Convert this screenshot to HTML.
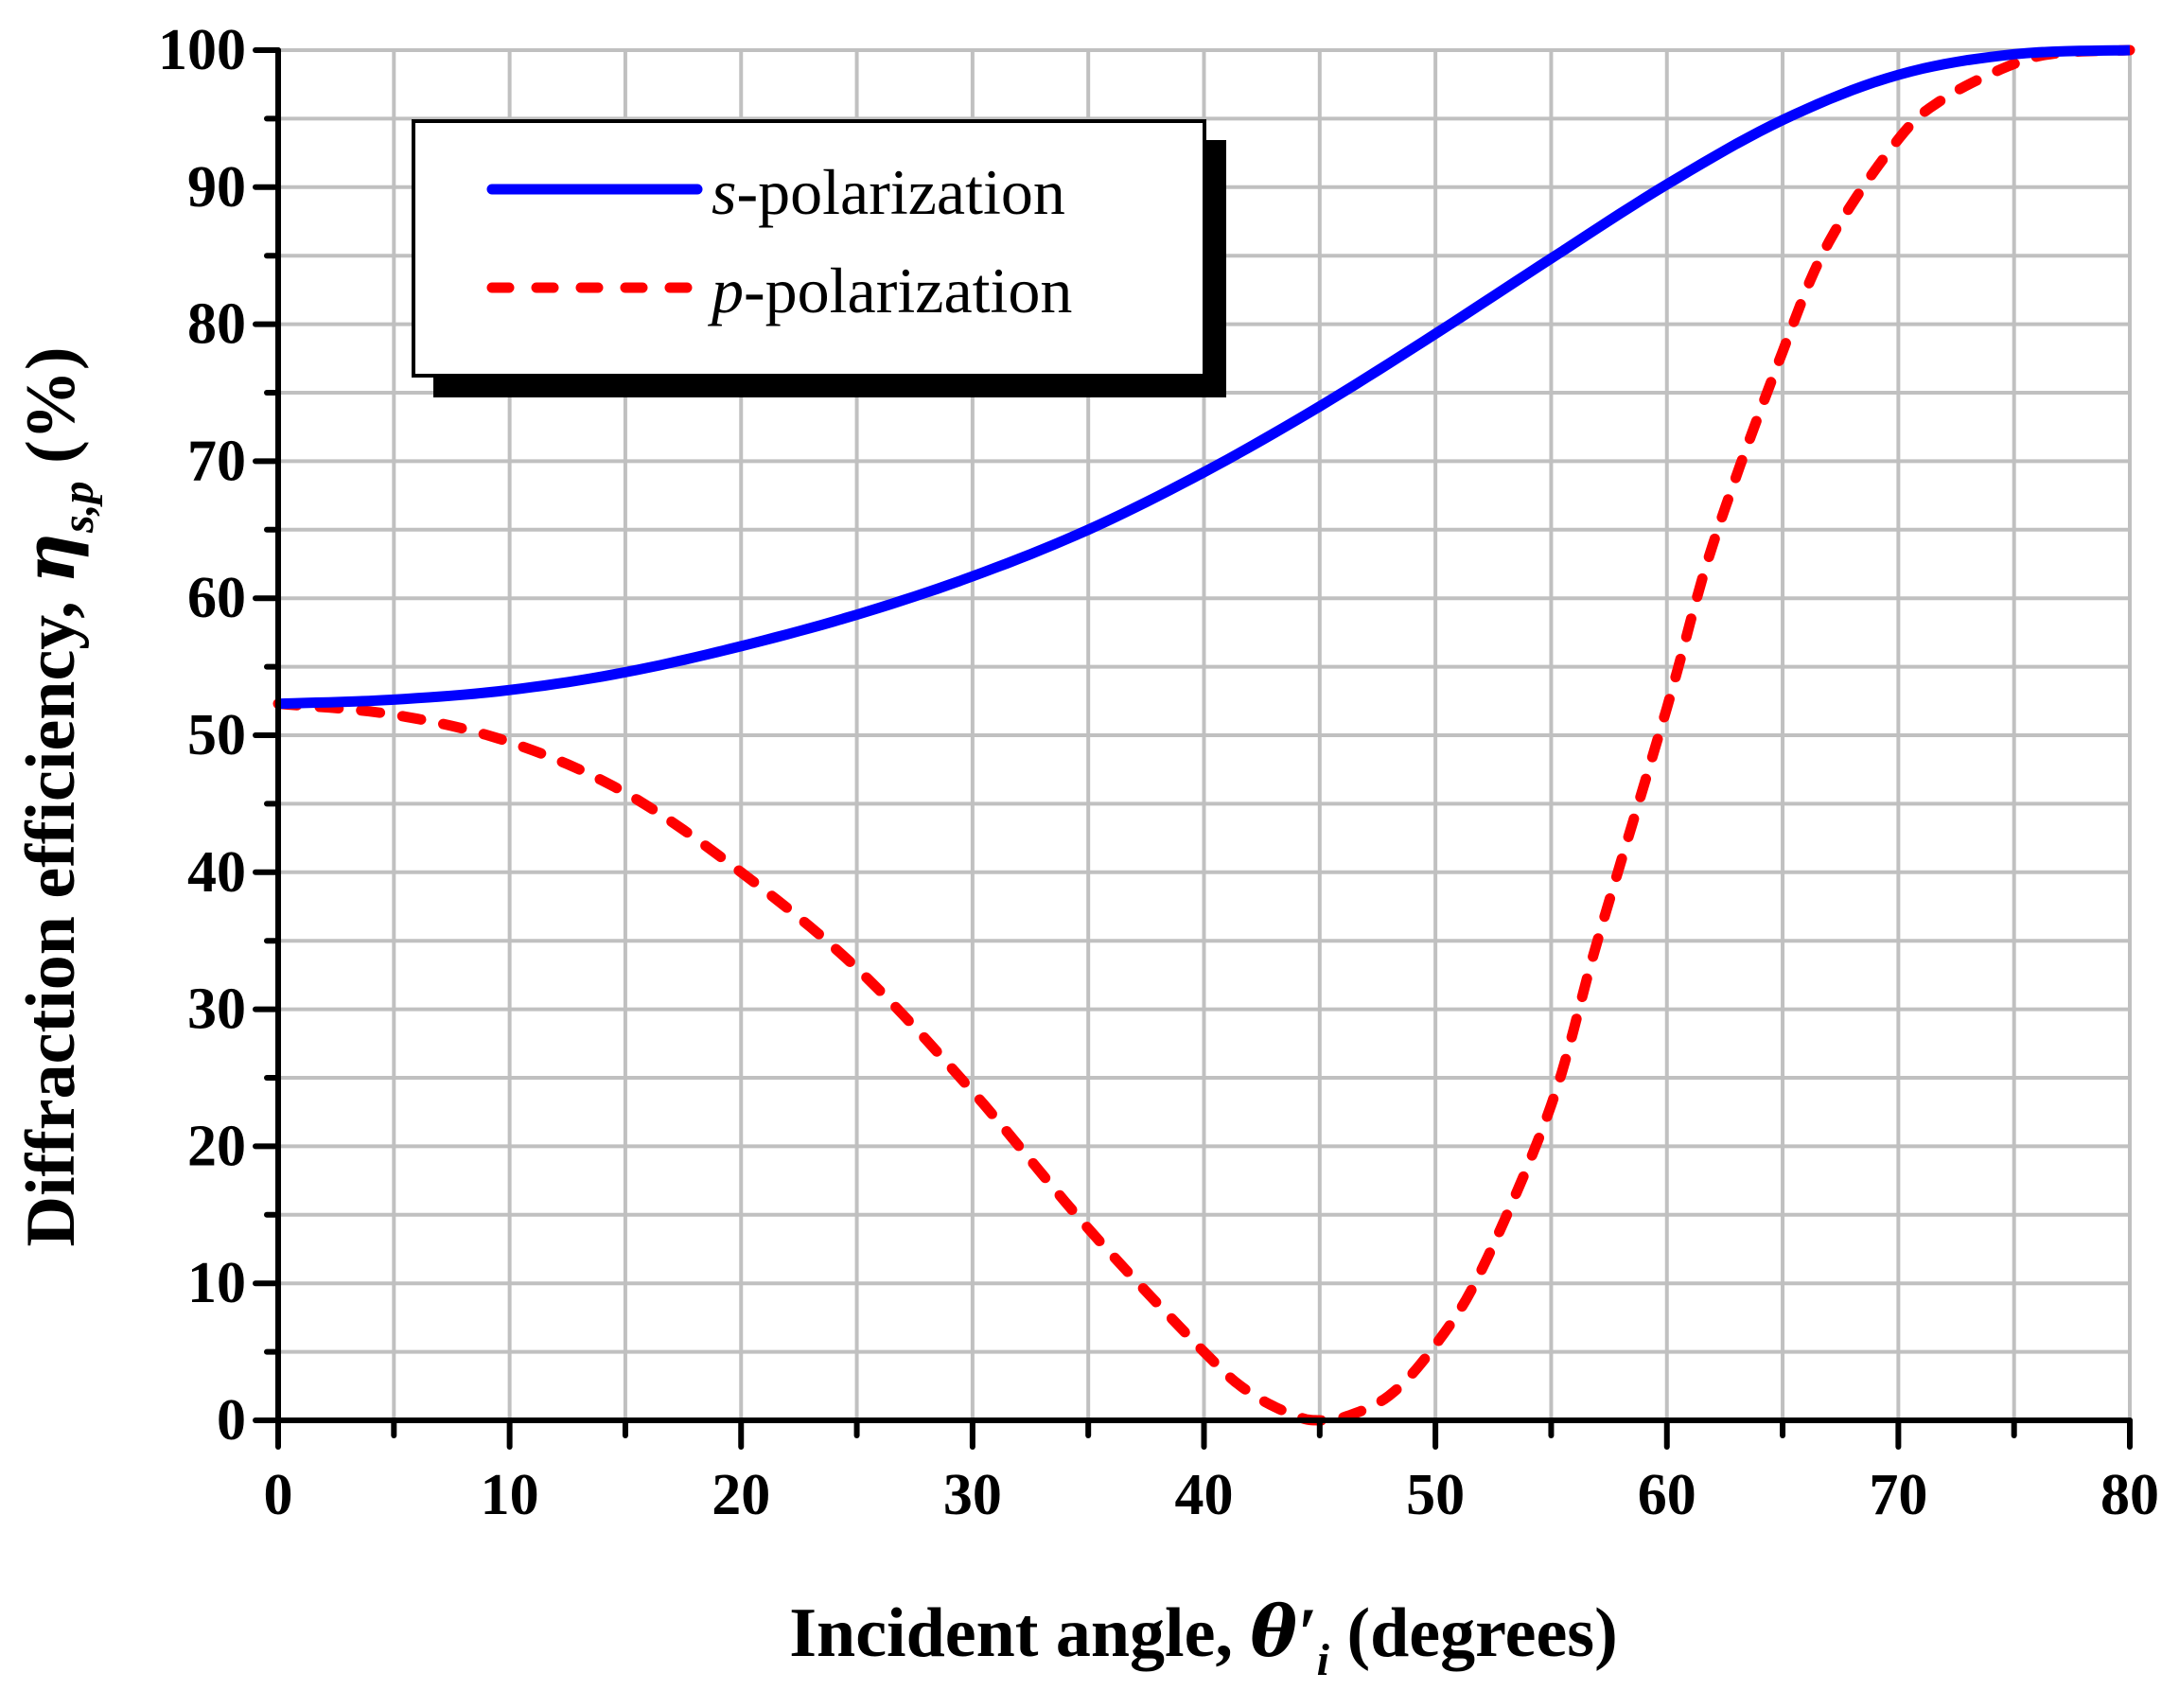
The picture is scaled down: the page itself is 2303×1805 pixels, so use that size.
<!DOCTYPE html>
<html><head><meta charset="utf-8">
<style>
html,body{margin:0;padding:0;background:#fff;}
svg{display:block;}
text{font-family:"Liberation Serif",serif;font-weight:bold;fill:#000;}
</style></head>
<body>
<svg id="s" width="2303" height="1805" xmlns="http://www.w3.org/2000/svg">
<g id="grid" stroke="#c0c0c0" stroke-width="4"></g>
<g id="curves" fill="none"></g>
<g id="axes" stroke="#000" stroke-width="6" stroke-linecap="round"></g>
<g id="labels" font-size="62"></g>
<!-- legend -->
<rect x="458" y="148" width="838" height="272" fill="#000"/>
<rect x="437" y="128" width="836" height="269" fill="#fff" stroke="#000" stroke-width="4"/>
<line x1="520" y1="200" x2="737" y2="200" stroke="#0000ff" stroke-width="11" stroke-linecap="round"/>
<line x1="520" y1="304" x2="737" y2="304" stroke="#ff0000" stroke-width="11" stroke-linecap="round" stroke-dasharray="18 29"/>
<text x="752" y="226" font-size="68" style="font-weight:normal"><tspan font-style="italic">s</tspan>-polarization</text>
<text x="752" y="330" font-size="68" style="font-weight:normal"><tspan font-style="italic">p</tspan>-polarization</text>
<!-- axis titles -->
<text x="1272" y="1750" font-size="74" text-anchor="middle">Incident angle, <tspan font-style="italic" font-family="DejaVu Serif">θ</tspan><tspan font-style="italic">′</tspan><tspan font-style="italic" font-size="48" dy="20">i</tspan><tspan dy="-20"> (degrees)</tspan></text>
<text transform="translate(78,842) rotate(-90)" font-size="74" text-anchor="middle">Diffraction efficiency, <tspan font-style="italic" font-family="DejaVu Serif">η</tspan><tspan font-style="italic" font-size="48" dy="20">s,p</tspan><tspan dy="-20">  (%)</tspan></text>
</svg>
<script>
var X0=294,X1=2251,Y0=1501,Y1=53;
function px(x){return X0+(X1-X0)*x/80;}
function py(y){return Y0+(Y1-Y0)*y/100;}
var NS="http://www.w3.org/2000/svg";
function el(p,t,a,txt){var e=document.createElementNS(NS,t);for(var k in a)e.setAttribute(k,a[k]);if(txt!==undefined)e.textContent=txt;document.getElementById(p).appendChild(e);return e;}
for(var x=5;x<=80;x+=5)el("grid","line",{x1:px(x),y1:py(0),x2:px(x),y2:py(100)});
for(var y=5;y<=100;y+=5)el("grid","line",{x1:px(0),y1:py(y),x2:px(80),y2:py(y)});
el("axes","line",{x1:px(0),y1:py(100),x2:px(0),y2:py(0)});
el("axes","line",{x1:px(0),y1:py(0),x2:px(80),y2:py(0)});
for(var x=0;x<=80;x+=5){var L=x%10==0?28:16;el("axes","line",{x1:px(x),y1:py(0),x2:px(x),y2:py(0)+L});
 if(x%10==0)el("labels","text",{x:px(x),y:1600,"text-anchor":"middle"},String(x));}
for(var y=0;y<=100;y+=5){var L=y%10==0?24:12;el("axes","line",{x1:px(0)-L,y1:py(y),x2:px(0),y2:py(y)});
 if(y%10==0)el("labels","text",{x:260,y:py(y)+20,"text-anchor":"end"},String(y));}
function cr(pts){var d="M"+px(pts[0][0])+","+py(pts[0][1]);
 for(var i=0;i<pts.length-1;i++){var p0=pts[Math.max(0,i-1)],p1=pts[i],p2=pts[i+1],p3=pts[Math.min(pts.length-1,i+2)];
  for(var t=0.1;t<=1.001;t+=0.1){var t2=t*t,t3=t2*t;
   function f(a,b,c,dd){return 0.5*((2*b)+(-a+c)*t+(2*a-5*b+4*c-dd)*t2+(-a+3*b-3*c+dd)*t3);}
   var xx=f(p0[0],p1[0],p2[0],p3[0]),yy=f(p0[1],p1[1],p2[1],p3[1]);d+=" L"+px(xx).toFixed(1)+","+py(yy).toFixed(1);}}
 return d;}
var s=[[0,52.3],[5,52.6],[10,53.3],[15,54.6],[20,56.5],[25,58.8],[30,61.6],[35,65],[40,69.2],[45,74],[50,79.3],[55,84.8],[60,90.2],[65,94.9],[70,98.2],[75,99.7],[80,100]];
var p=[[0,52.3],[5,51.5],[10,49.5],[15,45.8],[20,40],[25,33],[30,24],[35,14],[40,5],[42,2],[44,0.3],[45,0],[46,0.2],[48,1.8],[50,5.5],[52,11],[55,23],[57,35],[60,52],[62,64],[65,78],[67,86],[70,93.5],[72,96.5],[75,99],[77,99.8],[80,100]];
el("curves","path",{d:cr(p),stroke:"#ff0000","stroke-width":11,"stroke-dasharray":"20 24","stroke-linecap":"round"});
el("curves","path",{d:cr(s),stroke:"#0000ff","stroke-width":11});
</script>
</body></html>
